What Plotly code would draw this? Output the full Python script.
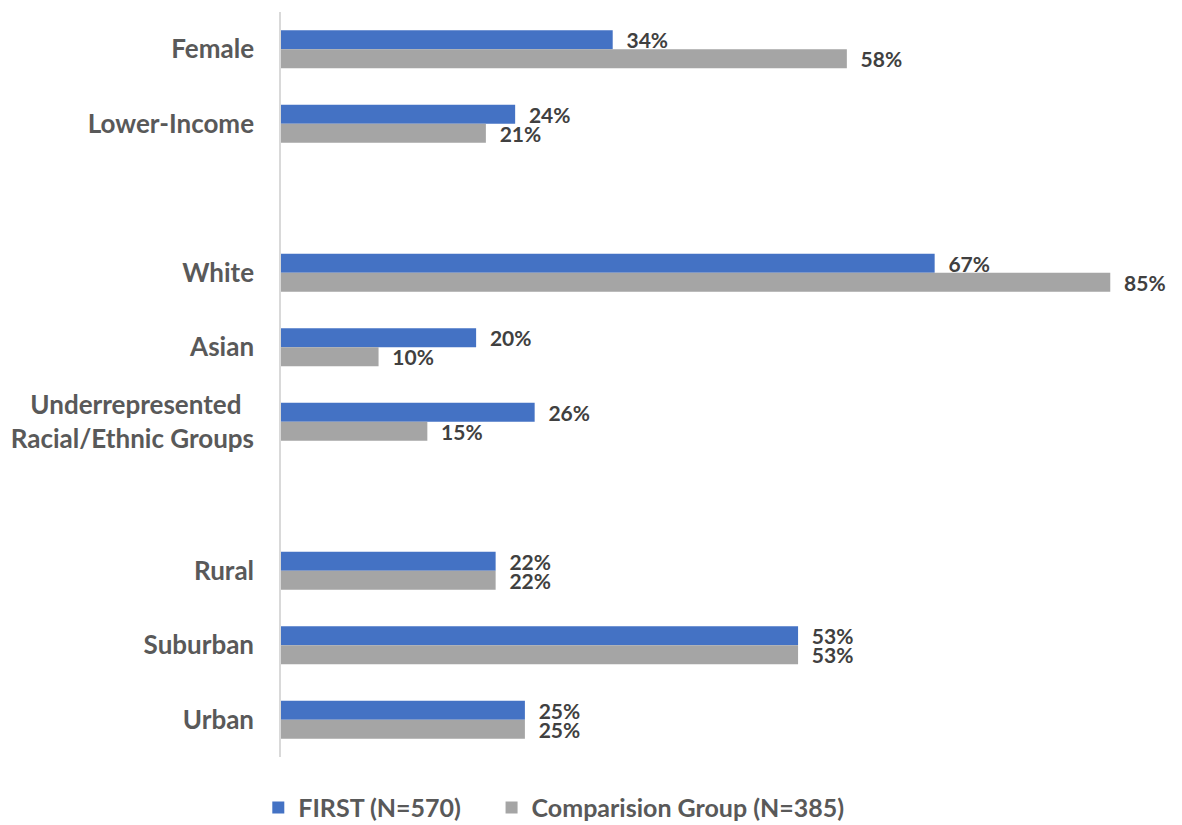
import plotly.graph_objects as go

# categories in display order; slot = row position (gaps separate the groups)
categories = ["Female", "Lower-Income",
              "White", "Asian", "Underrepresented\u00a0\u00a0<br>Racial/Ethnic Groups",
              "Rural", "Suburban", "Urban"]
slots = [0, 1, 3, 4, 5, 7, 8, 9]

first_pct = [34, 24, 67, 20, 26, 22, 53, 25]
comparison_pct = [58, 21, 85, 10, 15, 22, 53, 25]

series_names = ["FIRST (N=570)", "Comparision Group (N=385)"]

BLUE = "#4472C4"
GRAY = "#A5A5A5"
LABEL = "#404040"
FONT = "Lato, Open Sans, Arial, sans-serif"

fig = go.Figure()
for name, vals, color, pad in [(series_names[0], first_pct, BLUE, "\u00a0" * 4),
                               (series_names[1], comparison_pct, GRAY, "")]:
    fig.add_trace(go.Bar(
        name=f"<b>{name}</b>{pad}", y=slots, x=vals, orientation="h",
        marker=dict(color=color, line_width=0),
        text=vals, texttemplate="\u00a0\u00a0<b>%{x}%</b>",
        textposition="outside", cliponaxis=False, constraintext="none",
        textfont=dict(family=FONT, size=21, color=LABEL),
    ))

fig.update_layout(
    width=1182, height=825,
    barmode="group", bargap=0.49, bargroupgap=0,
    plot_bgcolor="white", paper_bgcolor="white",
    margin=dict(l=281, r=21, t=12, b=68, autoexpand=False),
    font=dict(family=FONT, size=20, color="#595959"),
    xaxis=dict(range=[0, 90.2], showgrid=False, showticklabels=False,
               zeroline=False, showline=False),
    yaxis=dict(range=[9.5, -0.5], tickmode="array", tickvals=slots,
               ticktext=[f"<b>{c}</b>" for c in categories],
               showgrid=False, zeroline=False, showline=True,
               linecolor="#D9D9D9", linewidth=1.5, ticks="",
               ticklabelstandoff=20,
               tickfont=dict(family=FONT, size=26, color="#595959")),
    legend=dict(orientation="h", x=0.31, xanchor="center", y=-0.068, yanchor="middle",
                font=dict(family=FONT, size=25, color="#595959"),
                traceorder="normal", itemwidth=30),
    showlegend=True,
)

# drop the default page margin so the figure fills the window exactly
fig.write_html("out.html", config={"displayModeBar": False},
               post_script="document.body.style.margin='0';")
